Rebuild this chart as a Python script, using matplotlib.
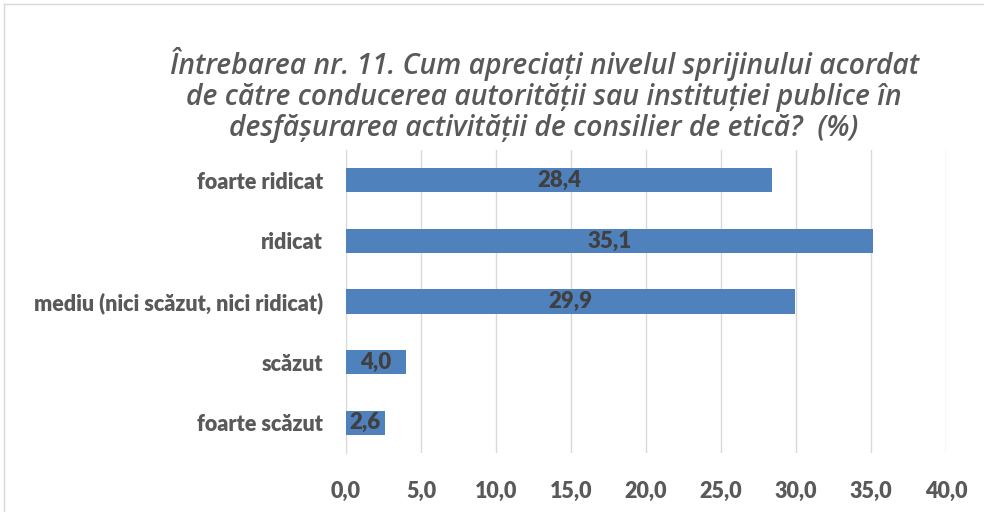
import numpy as np
import matplotlib.pyplot as plt
from matplotlib.lines import Line2D

categories = ['foarte ridicat', 'ridicat', 'mediu (nici scăzut, nici ridicat)', 'scăzut', 'foarte scăzut']
values = [28.4, 35.1, 29.9, 4.0, 2.6]
xticks = [0, 5, 10, 15, 20, 25, 30, 35, 40]

title = ('Întrebarea nr. 11. Cum apreciați nivelul sprijinului acordat\n'
         'de către conducerea autorității sau instituției publice în\n'
         'desfășurarea activității de consilier de etică?  (%)')

plt.rcParams['font.family'] = ['Lato', 'DejaVu Sans']

fig = plt.figure(figsize=(9.84, 5.12), dpi=100)
# chart area border (top and left visible)
fig.lines.append(Line2D([0.004, 1.0], [0.992, 0.992], transform=fig.transFigure, color='#d9d9d9', lw=1))
fig.lines.append(Line2D([0.004, 0.004], [0.0, 0.992], transform=fig.transFigure, color='#d9d9d9', lw=1))
ax = fig.add_axes([0.3516, 0.115, 0.6098, 0.592])

y = np.arange(len(categories))
ax.barh(y, values, height=0.4, color='#4f81bd', zorder=3)
for yi, v in zip(y, values):
    ax.text(v / 2, yi, f'{v:.1f}'.replace('.', ','), ha='center', va='center',
            fontsize=16, fontweight='heavy', color='#404040', zorder=4)

ax.set_ylim(len(categories) - 0.5, -0.5)
ax.set_yticks(y)
ax.set_yticklabels(categories, fontsize=15.5, fontweight='heavy', color='#595959')
ax.set_xlim(0, 40)
ax.set_xticks(xticks)
ax.set_xticklabels([f'{t:.1f}'.replace('.', ',') for t in xticks],
                   fontsize=15.5, fontweight='heavy', color='#595959')
ax.tick_params(axis='y', length=0, pad=16.5)
ax.tick_params(axis='x', length=0, pad=20)
ax.grid(axis='x', color='#d9d9d9', linewidth=1, zorder=0)
for s in ['top', 'right', 'bottom']:
    ax.spines[s].set_visible(False)
ax.spines['left'].set_color('#d9d9d9')

fig.text(0.553, 0.814, title, ha='center', va='center', fontsize=20.3,
         fontweight='semibold', style='italic', color='#595959', linespacing=1.1,
         family=['Open Sans', 'DejaVu Sans'])

fig.savefig('out.png', dpi=100)
